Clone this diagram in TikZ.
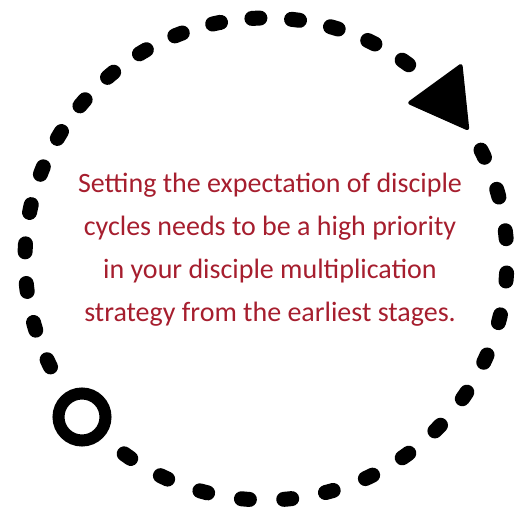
\documentclass[tikz,border=0pt]{standalone}
\usepackage{fontspec}
\setmainfont{Carlito}
\usepackage{tikz}
\usetikzlibrary{
  positioning,
  shapes.geometric
}
\definecolor{msgred}{RGB}{166,30,46}
\definecolor{loopblack}{RGB}{0,0,0}
\tikzset{
  loopdash/.style={
    draw=loopblack, line width=15pt, line cap=round
  },
  startring/.style={
    circle, draw=loopblack, line width=12pt,
    minimum size=47pt, inner sep=0pt
  },
  arrowtip/.style={
    regular polygon, regular polygon sides=3,
    draw=loopblack, fill=loopblack, line width=4pt, line join=round,
    minimum size=72pt, inner sep=0pt
  },
  msgnode/.style={
    text=msgred, align=center,
    font=\fontsize{28}{43}\selectfont
  }
}

\begin{document}
\begin{tikzpicture}[x=1pt, y=1pt]

    \useasboundingbox (0,0) rectangle (527,514);

    % centre of the cycle
    \coordinate (hub) at (266,255);

    % start and end markers
    \node[startring] (start) at (82,97) {};
    \node[arrowtip, rotate=96] (tip) at (446,415) {};

    % message
    \node[msgnode] (msg) at (270,264) {
      Setting the expectation of disciple\\
      cycles needs to be a high priority\\
      in your disciple multiplication\\
      strategy from the earliest stages.
    };

    % dashed loop: tip -> top -> start
    \draw[loopdash, dash pattern=on 8pt off 31.7pt]
      (hub) ++(53.7:241) arc[start angle=53.7, end angle=206.6, radius=241];

    % dashed loop: start -> bottom -> tip
    \draw[loopdash, dash pattern=on 8pt off 34.35pt]
      (hub) ++(233.95:241) arc[start angle=233.95, end angle=386.85, radius=241];

  \end{tikzpicture}
\end{document}
